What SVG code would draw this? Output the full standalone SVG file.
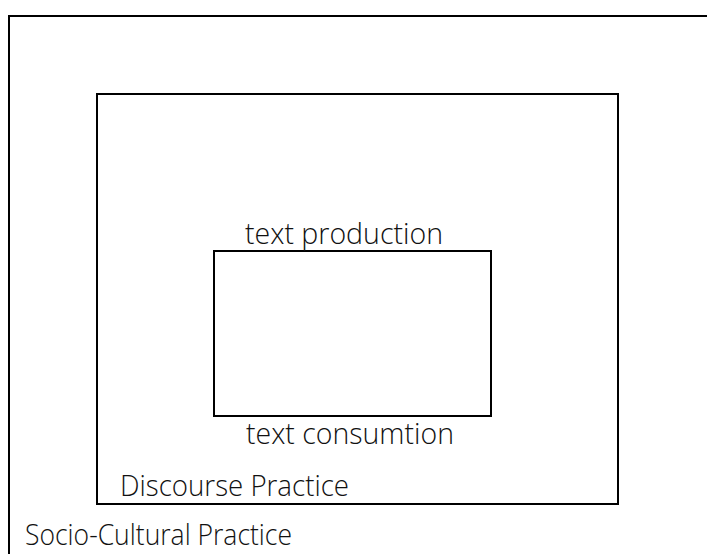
<svg xmlns="http://www.w3.org/2000/svg" width="707" height="554" viewBox="0 0 707 554">
<style>
.box{fill:none;stroke:#000;stroke-width:2}
.lbl{font-family:"Open Sans","Noto Sans","DejaVu Sans",sans-serif;font-size:29px;fill:#111;font-weight:300}
</style>
<rect width="707" height="554" fill="#fff"/>
<g id="socio-cultural-practice">
<rect class="box" x="9" y="16" width="720" height="560"/>
<text class="lbl" x="25" y="545" textLength="267" lengthAdjust="spacingAndGlyphs">Socio-Cultural Practice</text>
</g>
<g id="discourse-practice">
<rect class="box" x="97" y="94" width="521" height="410"/>
<text class="lbl" x="120" y="496" textLength="229" lengthAdjust="spacingAndGlyphs">Discourse Practice</text>
</g>
<g id="text">
<rect class="box" x="214" y="251" width="277" height="165"/>
<text class="lbl" x="245" y="244" textLength="198" lengthAdjust="spacingAndGlyphs">text production</text>
<text class="lbl" x="246" y="444" textLength="208" lengthAdjust="spacingAndGlyphs">text consumtion</text>
</g>
<g id="connectors"></g>
</svg>
